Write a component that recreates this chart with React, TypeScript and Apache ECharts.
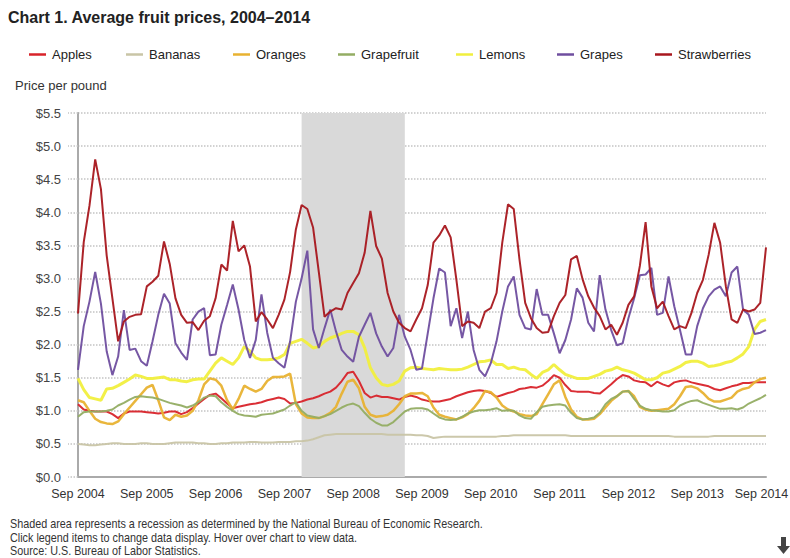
import React, { useEffect, useRef } from "react";
import * as echarts from "echarts";

const MONTHS = ["Jan", "Feb", "Mar", "Apr", "May", "Jun", "Jul", "Aug", "Sep", "Oct", "Nov", "Dec"];
const START_MONTH = 8; // Sep
const START_YEAR = 2004;
const N_POINTS = 121;
const categories: string[] = [];
for (let i = 0; i < N_POINTS; i++) {
  const m = START_MONTH + i;
  categories.push(MONTHS[m % 12] + " " + (START_YEAR + Math.floor(m / 12)));
}

const seriesNames = ["Apples", "Bananas", "Oranges", "Grapefruit", "Lemons", "Grapes", "Strawberries"];

const apples = [
  1.10, 1.02, 1.00, 0.99, 0.99, 0.99, 0.95, 0.89, 0.96, 0.99, 0.99, 0.99,
  0.98, 0.97, 0.96, 0.97, 0.99, 0.99, 0.95, 0.98, 1.04, 1.11, 1.18, 1.24,
  1.26, 1.19, 1.11, 1.04, 1.06, 1.08, 1.10, 1.11, 1.13, 1.16, 1.18, 1.20,
  1.18, 1.11, 1.12, 1.14, 1.17, 1.19, 1.22, 1.26, 1.29, 1.35, 1.45, 1.57,
  1.59, 1.45, 1.27, 1.20, 1.23, 1.21, 1.21, 1.19, 1.17, 1.21, 1.23, 1.21,
  1.17, 1.15, 1.14, 1.14, 1.16, 1.18, 1.22, 1.25, 1.28, 1.30, 1.31, 1.30,
  1.27, 1.21, 1.24, 1.27, 1.29, 1.33, 1.34, 1.36, 1.35, 1.38, 1.45, 1.54,
  1.50, 1.39, 1.30, 1.29, 1.29, 1.29, 1.27, 1.26, 1.33, 1.40, 1.48, 1.54,
  1.52, 1.46, 1.44, 1.43, 1.37, 1.44, 1.40, 1.37, 1.43, 1.45, 1.46, 1.43,
  1.41, 1.39, 1.37, 1.33, 1.31, 1.34, 1.37, 1.39, 1.42, 1.42, 1.43, 1.43,
  1.43,
];

const bananas = [
  0.50, 0.49, 0.48, 0.48, 0.49, 0.50, 0.51, 0.51, 0.50, 0.50, 0.50, 0.51,
  0.51, 0.50, 0.50, 0.50, 0.51, 0.52, 0.52, 0.52, 0.52, 0.51, 0.51, 0.50,
  0.50, 0.51, 0.51, 0.52, 0.52, 0.52, 0.53, 0.53, 0.52, 0.52, 0.52, 0.53,
  0.53, 0.53, 0.54, 0.54, 0.55, 0.57, 0.60, 0.63, 0.64, 0.65, 0.65, 0.65,
  0.65, 0.65, 0.65, 0.65, 0.65, 0.65, 0.64, 0.64, 0.64, 0.64, 0.64, 0.63,
  0.63, 0.62, 0.59, 0.60, 0.61, 0.61, 0.61, 0.61, 0.61, 0.61, 0.61, 0.61,
  0.61, 0.61, 0.62, 0.62, 0.63, 0.63, 0.63, 0.63, 0.63, 0.63, 0.63, 0.63,
  0.63, 0.63, 0.62, 0.62, 0.62, 0.62, 0.62, 0.62, 0.62, 0.62, 0.62, 0.62,
  0.62, 0.62, 0.62, 0.62, 0.62, 0.62, 0.62, 0.62, 0.61, 0.61, 0.61, 0.61,
  0.61, 0.61, 0.61, 0.62, 0.62, 0.62, 0.62, 0.62, 0.62, 0.62, 0.62, 0.62,
  0.62,
];

const oranges = [
  1.16, 1.13, 1.00, 0.88, 0.83, 0.81, 0.80, 0.84, 0.95, 1.05, 1.15, 1.25,
  1.35, 1.39, 1.16, 0.90, 0.86, 0.94, 0.91, 0.93, 1.00, 1.16, 1.40, 1.49,
  1.47, 1.38, 1.16, 1.02, 1.18, 1.38, 1.33, 1.29, 1.33, 1.45, 1.51, 1.51,
  1.52, 1.56, 1.10, 0.96, 0.90, 0.89, 0.89, 0.92, 0.97, 1.06, 1.26, 1.44,
  1.47, 1.34, 1.06, 0.94, 0.91, 0.92, 0.94, 1.00, 1.10, 1.22, 1.26, 1.26,
  1.27, 1.22, 1.05, 0.94, 0.91, 0.89, 0.87, 0.90, 0.95, 1.04, 1.15, 1.30,
  1.28, 1.20, 1.08, 1.02, 0.99, 0.95, 0.93, 0.92, 0.95, 1.10, 1.25, 1.40,
  1.46, 1.21, 1.02, 0.91, 0.87, 0.87, 0.88, 0.95, 1.05, 1.15, 1.22, 1.29,
  1.30, 1.22, 1.06, 1.02, 1.00, 1.01, 1.02, 1.03, 1.10, 1.22, 1.36, 1.37,
  1.34, 1.27, 1.18, 1.14, 1.14, 1.17, 1.20, 1.29, 1.33, 1.35, 1.43, 1.48,
  1.50,
];

const grapefruit = [
  0.91, 0.98, 0.99, 0.99, 0.99, 1.00, 1.02, 1.08, 1.12, 1.17, 1.21, 1.22,
  1.21, 1.20, 1.18, 1.15, 1.12, 1.10, 1.08, 1.05, 1.08, 1.13, 1.20, 1.23,
  1.22, 1.13, 1.06, 1.00, 0.95, 0.93, 0.92, 0.91, 0.94, 0.95, 0.96, 0.99,
  1.02, 1.08, 1.13, 1.00, 0.93, 0.91, 0.89, 0.92, 0.95, 1.00, 1.05, 1.09,
  1.11, 1.07, 0.97, 0.88, 0.82, 0.78, 0.78, 0.83, 0.91, 0.99, 1.03, 1.04,
  1.04, 1.02, 0.96, 0.90, 0.87, 0.86, 0.87, 0.91, 0.96, 0.99, 1.01, 1.01,
  1.02, 1.04, 1.00, 1.01, 1.00, 0.93, 0.89, 0.88, 0.98, 1.06, 1.08, 1.09,
  1.10, 1.08, 0.97, 0.89, 0.87, 0.88, 0.90, 0.97, 1.10, 1.18, 1.22, 1.29,
  1.30, 1.18, 1.08, 1.03, 1.01, 1.00, 0.99, 0.99, 1.01, 1.08, 1.12, 1.15,
  1.16, 1.12, 1.09, 1.06, 1.03, 1.03, 1.04, 1.02, 1.05, 1.11, 1.15, 1.19,
  1.24,
];

const lemons = [
  1.49, 1.32, 1.20, 1.18, 1.16, 1.33, 1.34, 1.38, 1.43, 1.48, 1.54, 1.52,
  1.49, 1.49, 1.50, 1.51, 1.47, 1.47, 1.45, 1.44, 1.47, 1.48, 1.48, 1.60,
  1.72, 1.80, 1.75, 1.70, 1.80, 1.97, 1.90, 1.80, 1.77, 1.77, 1.78, 1.80,
  1.85, 2.02, 2.05, 2.08, 2.02, 1.95, 1.97, 2.05, 2.10, 2.13, 2.17, 2.20,
  2.20, 2.15, 1.95, 1.65, 1.50, 1.40, 1.38, 1.40, 1.45, 1.60, 1.65, 1.66,
  1.64, 1.63, 1.62, 1.64, 1.63, 1.62, 1.62, 1.63, 1.66, 1.70, 1.74, 1.75,
  1.77, 1.70, 1.70, 1.64, 1.66, 1.63, 1.62, 1.55, 1.49, 1.58, 1.62, 1.70,
  1.62, 1.55, 1.52, 1.49, 1.49, 1.49, 1.52, 1.55, 1.60, 1.62, 1.66, 1.62,
  1.60, 1.57, 1.52, 1.47, 1.47, 1.50, 1.57, 1.59, 1.63, 1.67, 1.73, 1.75,
  1.75, 1.72, 1.67, 1.68, 1.70, 1.73, 1.75, 1.80, 1.86, 1.97, 2.23, 2.35,
  2.38,
];

const grapes = [
  1.62, 2.28, 2.65, 3.10, 2.62, 1.90, 1.54, 1.82, 2.52, 1.92, 1.94, 1.75,
  1.68, 2.05, 2.45, 2.77, 2.62, 2.02, 1.88, 1.77, 2.38, 2.50, 2.55, 1.84,
  1.85, 2.30, 2.60, 2.91, 2.53, 2.07, 1.80, 2.07, 2.76, 2.18, 1.80, 1.72,
  1.65, 2.05, 2.65, 3.00, 3.42, 2.23, 1.95, 2.25, 2.53, 2.20, 1.92, 1.82,
  1.74, 2.12, 2.30, 2.48, 2.17, 1.97, 1.82, 1.95, 2.45, 2.12, 1.92, 1.62,
  1.64, 2.17, 2.70, 3.15, 3.09, 2.28, 2.55, 2.10, 2.50, 1.92, 1.62, 1.52,
  1.72, 2.05, 2.50, 2.88, 3.03, 2.45, 2.25, 2.23, 2.84, 2.45, 2.45, 2.17,
  1.87, 2.07, 2.38, 2.85, 2.71, 2.33, 2.20, 3.05, 2.53, 2.22, 1.99, 2.02,
  2.40, 2.70, 3.05, 3.06, 3.16, 2.45, 2.48, 3.03, 2.58, 2.22, 1.85, 1.85,
  2.28, 2.55, 2.73, 2.83, 2.88, 2.73, 3.09, 3.18, 2.53, 2.45, 2.16, 2.18,
  2.22,
];

const strawberries = [
  2.47, 3.55, 4.10, 4.80, 4.35, 3.35, 2.70, 2.05, 2.35, 2.42, 2.45, 2.46,
  2.88, 2.95, 3.04, 3.56, 3.22, 2.70, 2.45, 2.33, 2.34, 2.22, 2.36, 2.43,
  2.70, 3.21, 3.12, 3.87, 3.41, 3.50, 3.18, 2.35, 2.49, 2.38, 2.25, 2.45,
  2.68, 3.10, 3.74, 4.11, 4.05, 3.77, 3.10, 2.42, 2.50, 2.55, 2.53, 2.78,
  2.93, 3.08, 3.39, 4.02, 3.49, 3.30, 2.78, 2.50, 2.33, 2.25, 2.20, 2.38,
  2.55, 2.90, 3.54, 3.65, 3.80, 3.62, 2.98, 2.28, 2.35, 2.33, 2.25, 2.50,
  2.55, 2.78, 3.54, 4.12, 4.05, 3.29, 2.63, 2.40, 2.25, 2.18, 2.19, 2.43,
  2.63, 2.75, 3.29, 3.34, 2.99, 2.73, 2.56, 2.43, 2.23, 2.30, 2.15, 2.33,
  2.60, 2.73, 3.19, 3.85, 2.88, 2.55, 2.65, 2.43, 2.23, 2.28, 2.25, 2.48,
  2.78, 2.98, 3.36, 3.84, 3.54, 2.88, 2.38, 2.33, 2.53, 2.50, 2.53, 2.63,
  3.47,
];

const recessionStart = "Dec 2007";
const recessionEnd = "Jun 2009";

const yTicks = { min: 0, max: 5.5, interval: 0.5 };

const footnotes = [
  "Shaded area represents a recession as determined by the National Bureau of Economic Research.",
  "Click legend items to change data display. Hover over chart to view data.",
  "Source: U.S. Bureau of Labor Statistics.",
];

const seriesData = [apples, bananas, oranges, grapefruit, lemons, grapes, strawberries];
const seriesColors = ["#d8232a", "#c9c5a6", "#e8b231", "#93ad63", "#f1ef3e", "#6f4e9f", "#a8171e"];
const seriesWidths = [2, 2, 2.5, 2, 3, 2, 2];
const legendLefts = [29, 126, 233, 338, 456, 557, 655];

const FONT = "'Liberation Sans', Arial, sans-serif";

export default function App() {
  const ref = useRef<HTMLDivElement>(null);

  useEffect(() => {
    if (!ref.current) return;
    const chart = echarts.init(ref.current, null, { renderer: "svg" });

    const lines: any[] = seriesNames.map((name, k) => ({
      name,
      type: "line",
      data: seriesData[k],
      showSymbol: false,
      symbol: "none",
      z: 3,
      color: seriesColors[k],
      lineStyle: { color: seriesColors[k], width: seriesWidths[k], opacity: 0.95 },
      emphasis: { disabled: true },
    }));

    const lastIndex = categories.length - 1;

    const option: any = {
      animation: false,
      backgroundColor: "#ffffff",
      title: {
        text: "Chart 1. Average fruit prices, 2004\u20132014",
        left: 8,
        top: 9,
        padding: 0,
        textStyle: { fontFamily: FONT, fontSize: 16, fontWeight: "bold", color: "#222222" },
      },
      legend: seriesNames.map((n, k) => ({
        data: [n],
        left: legendLefts[k],
        top: 48,
        padding: 0,
        icon: "rect",
        itemWidth: 17,
        itemHeight: 2.5,
        itemGap: 0,
        selectedMode: false,
        textStyle: { fontFamily: FONT, fontSize: 13, color: "#222222", padding: [0, 0, 0, 1] },
      })),
      grid: {
        left: 78,
        top: 113,
        width: 688,
        height: 364,
        containLabel: false,
        outerBoundsMode: "none",
      },
      xAxis: {
        type: "category",
        data: categories,
        boundaryGap: false,
        axisLine: { show: true, lineStyle: { color: "#aaaaaa", width: 2 } },
        axisTick: { show: false },
        splitLine: { show: false },
        axisLabel: {
          interval: 11,
          margin: 10,
          color: "#333333",
          fontFamily: FONT,
          fontSize: 12.5,
          showMaxLabel: true,
          hideOverlap: false,
          formatter: (v: string, idx: number) => (idx === lastIndex ? "{last|" + v + "}" : v),
          rich: {
            last: { fontFamily: FONT, fontSize: 12.5, color: "#333333", padding: [0, 9, 0, 0] },
          },
        },
      },
      yAxis: {
        type: "value",
        min: yTicks.min,
        max: yTicks.max,
        interval: yTicks.interval,
        axisLine: { show: true, lineStyle: { color: "#aaaaaa", width: 2 } },
        axisTick: { show: true, length: 10, lineStyle: { color: "#c4c4c4", type: "dotted", width: 1.5 } },
        splitLine: { show: true, lineStyle: { color: "#c4c4c4", type: "dotted", width: 1.5 } },
        axisLabel: {
          margin: 17,
          color: "#444444",
          fontFamily: FONT,
          fontSize: 13,
          formatter: (v: number) => "$" + v.toFixed(1),
        },
      },
      series: [
        {
          name: "recession",
          type: "line",
          data: [],
          z: 1,
          silent: true,
          markArea: {
            silent: true,
            itemStyle: { color: "#d9d9d9", opacity: 1 },
            data: [[{ xAxis: recessionStart }, { xAxis: recessionEnd }]],
          },
        },
        ...lines,
      ],
      graphic: [
        {
          type: "text",
          left: 15,
          top: 79,
          style: { text: "Price per pound", fontFamily: FONT, fontSize: 13, fill: "#333333" },
        },
        ...footnotes.map((t, k) => ({
          type: "text",
          x: 10,
          y: 518 + k * 13.5,
          scaleX: 0.9,
          originX: 0,
          style: { text: t, fontFamily: FONT, fontSize: 12, fill: "#333333" },
        })),
        {
          type: "polygon",
          shape: {
            points: [
              [781, 537], [786, 537], [786, 546], [790, 546], [783.5, 554], [777, 546], [781, 546],
            ],
          },
          style: { fill: "#444444" },
        },
      ],
    };

    chart.setOption(option);
    return () => chart.dispose();
  }, []);

  return (
    <div
      ref={ref}
      style={{ position: "absolute", left: 0, top: 0, width: 790, height: 558, background: "#fff" }}
    />
  );
}
